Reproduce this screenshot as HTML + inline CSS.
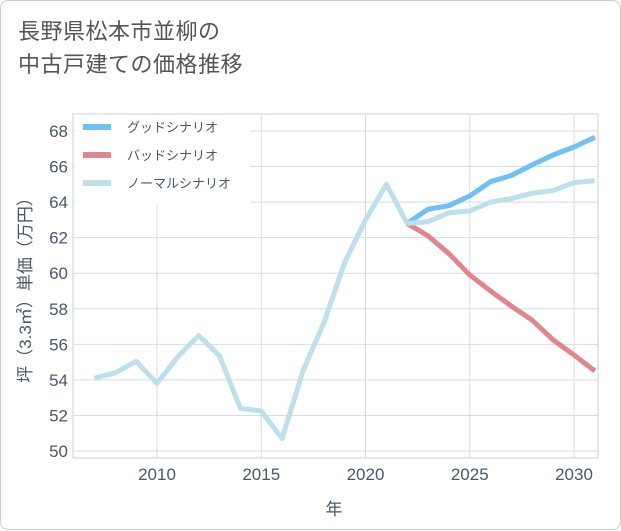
<!DOCTYPE html>
<html><head><meta charset="utf-8"><style>
body{margin:0;background:#fff;font-family:"Liberation Sans","Noto Sans CJK JP",sans-serif}
#card{position:absolute;left:0;top:0;width:619px;height:528px;border:1px solid #ccc;border-radius:8px;background:#fff}
#title{position:absolute;left:17px;top:14px;font-size:22px;line-height:33px;color:#555;letter-spacing:0.5px}
</style></head><body>
<div id="card">
<div id="title">長野県松本市並柳の<br>中古戸建ての価格推移</div>
<svg id="chart" width="621" height="530" style="position:absolute;left:0;top:0"></svg>
</div>
<script>
const histYears=[2007,2008,2009,2010,2011,2012,2013,2014,2015,2016,2017,2018,2019,2020,2021,2022];
const histValues=[54.1,54.4,55.05,53.8,55.3,56.5,55.35,52.4,52.25,50.7,54.5,57.2,60.6,63.0,65.0,62.8];
const futYears=[2022,2023,2024,2025,2026,2027,2028,2029,2030,2031];
const goodValues=[62.8,63.6,63.8,64.35,65.15,65.5,66.1,66.65,67.1,67.65];
const badValues=[62.8,62.1,61.1,59.9,59.0,58.15,57.35,56.25,55.4,54.5];
const normalValues=[62.8,62.9,63.4,63.5,64.0,64.2,64.5,64.65,65.1,65.2];
const yTicks=[50,52,54,56,58,60,62,64,66,68];
const xTicks=[2010,2015,2020,2025,2030];
const legendLabels=["グッドシナリオ","バッドシナリオ","ノーマルシナリオ"];
const legendColors=["#6ec0f5","#e0868e","#bde0ec"];

const L=72,R=597,T=113,B=457;
const TXT='#4a5868';
const x=yr=>156+(yr-2010)*20.85;
const y=v=>130+(68-v)*17.78;
const NS="http://www.w3.org/2000/svg";
const svg=document.getElementById('chart');
function mk(tag,attrs,parent){const e=document.createElementNS(NS,tag);for(const k in attrs)e.setAttribute(k,attrs[k]);(parent||svg).appendChild(e);return e;}

const clip=mk('clipPath',{id:'pc'});mk('rect',{x:L,y:T,width:R-L,height:B-T},clip);

yTicks.forEach(v=>{
 const g=mk('line',{x1:L,x2:R,y1:y(v),y2:y(v),stroke:'#d3dde6','stroke-width':1});
 
 
 const t=mk('text',{x:L-5,y:y(v)+6,'text-anchor':'end','font-size':17,fill:TXT});
 t.textContent=v;
 
 
});
xTicks.forEach(v=>{
 const g=mk('line',{x1:x(v),x2:x(v),y1:T,y2:B,stroke:'#d3dde6','stroke-width':1});
 
 
 const t=mk('text',{x:x(v),y:B+22,'text-anchor':'middle','font-size':17,fill:TXT});
 t.textContent=v;
 
 
});
const fr=mk('rect',{x:L,y:T,width:R-L,height:B-T,fill:'none',stroke:'#c8d2dc'});



function line(xs,vs,color,name){
 const p=mk('polyline',{points:xs.map((yr,i)=>x(yr)+','+y(vs[i])).join(' '),fill:'none',stroke:color,'stroke-width':5,'stroke-linejoin':'round','clip-path':'url(#pc)'});
 
 
}
line(futYears,badValues,legendColors[1],'bad-scenario-line');
line(futYears,goodValues,legendColors[0],'good-scenario-line');
line(futYears,normalValues,legendColors[2],'normal-scenario-line');
line(histYears,histValues,legendColors[2],'historical-line');

const lg=mk('rect',{x:74,y:114,width:175,height:90,fill:'#fff'});


legendLabels.forEach((s,i)=>{
 const yy=126+i*28;
 const l=mk('line',{x1:82,x2:110,y1:yy,y2:yy,stroke:legendColors[i],'stroke-width':6});
 
 
 const t=mk('text',{x:126,y:yy+5,'font-size':13,fill:TXT});
 t.textContent=s;
 
 
});

const yt=mk('text',{x:0,y:0,'font-size':17,fill:TXT,'text-anchor':'middle',transform:'translate(30,285) rotate(-90)'});
yt.textContent='坪（3.3㎡）単価（万円）';


const xt=mk('text',{x:333,y:514,'font-size':17,fill:TXT,'text-anchor':'middle'});
xt.textContent='年';


</script>
</body></html>
